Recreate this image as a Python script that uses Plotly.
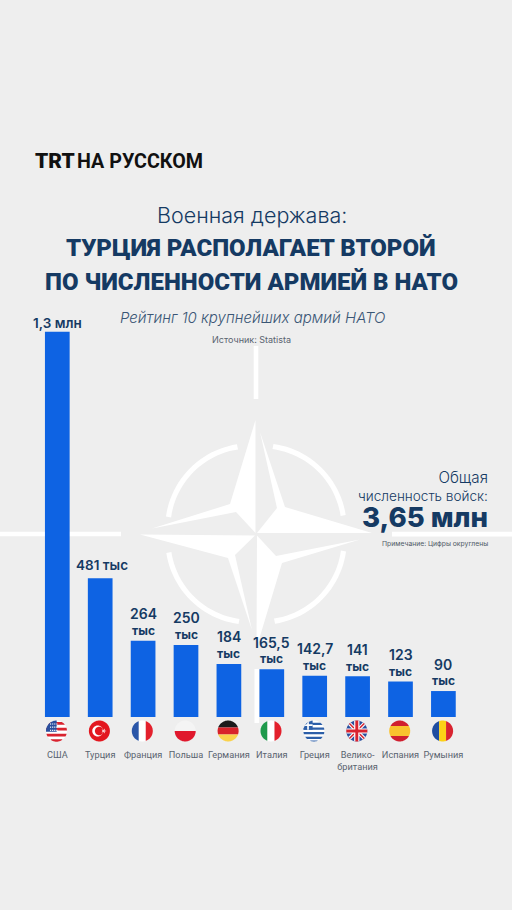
import math
import plotly.graph_objects as go

countries = ["США", "Турция", "Франция", "Польша", "Германия", "Италия", "Греция",
             "Велико-<br>британия", "Испания", "Румыния"]
troops_thousands = [1335, 481, 264, 250, 184, 165.5, 142.7, 141, 123, 90]
label_numbers = ["1,3 млн", "481 тыс", "264", "250", "184", "165,5", "142,7", "141", "123", "90"]

W, H = 512, 910
BG = "#eeeeee"
NAVY = "#153a63"
BLUE = "#0e63e3"
FONT = "Inter"
PX_PER_UNIT = 0.2885
BASE_Y = 717.0
X0, DX = 57.3, 42.9

def P(x, y):
    return x / W, 1 - y / H

def path_paper(pts):
    out = []
    for i, (x, y) in enumerate(pts):
        u, v = P(x, y)
        out.append(("M" if i == 0 else "L") + f"{u:.5f},{v:.5f}")
    return " ".join(out) + " Z"

shapes = []
def deco(pts):
    shapes.append(dict(type="path", xref="paper", yref="paper", path=path_paper(pts),
                       fillcolor="white", line_width=0, layer="below"))

# ---- NATO emblem (background decoration)
CX, CY = 256, 534
deco([(255.5, 420), (230, 504), (152, 528.5), (236, 512), (255.5, 533)])
deco([(260, 432), (285, 507), (372, 533), (257, 533), (277, 508)])
deco([(256.5, 648), (282, 563), (360, 539.5), (276, 556), (257, 535.5)])
deco([(252, 630), (228, 558), (140, 534.5), (255, 535.5), (235, 555)])
def arc(a0, a1, ro=93.2, ri=88.0, n=24):
    def radius(t, r):
        return r - 1.5 * abs(2 * t - 1) ** 2
    pts = []
    for i in range(n + 1):
        t = i / n
        a = math.radians(a0 + (a1 - a0) * t)
        r = radius(t, ro)
        pts.append((CX + r * math.cos(a), CY - r * math.sin(a)))
    for i in range(n, -1, -1):
        t = i / n
        a = math.radians(a0 + (a1 - a0) * t)
        r = radius(t, ri)
        pts.append((CX + r * math.cos(a), CY - r * math.sin(a)))
    return pts
for q in (0, 90, 180, 270):
    deco(arc(q + 12, q + 79))
deco([(0, 531.8), (121, 531.8), (121, 536.2), (0, 536.2)])
deco([(392, 531.8), (512, 531.8), (512, 536.4), (392, 536.4)])
deco([(253.7, 346), (258.3, 346), (258.3, 399), (253.7, 399)])
deco([(254.5, 669), (259.2, 669), (259.2, 723), (254.5, 723)])

# ---- flags, unit circle coordinates (y down), clipped to a disc
R = 10.5
DISC = [(math.cos(2 * math.pi * i / 72), math.sin(2 * math.pi * i / 72)) for i in range(72)]

def clip(poly):
    out = list(poly)
    n = len(DISC)
    for i in range(n):
        ax, ay = DISC[i]
        bx, by = DISC[(i + 1) % n]
        inp, out = out, []
        if not inp:
            break
        def side(p):
            return (bx - ax) * (p[1] - ay) - (by - ay) * (p[0] - ax)
        for j in range(len(inp)):
            p, q = inp[j], inp[(j + 1) % len(inp)]
            sp, sq = side(p), side(q)
            if sp >= 0:
                out.append(p)
            if (sp >= 0) != (sq >= 0):
                t = sp / (sp - sq)
                out.append((p[0] + (q[0] - p[0]) * t, p[1] + (q[1] - p[1]) * t))
    return out

def rect(x0, y0, x1, y1):
    return [(x0, y0), (x1, y0), (x1, y1), (x0, y1)]

def ngon(cx, cy, r, n=40):
    return [(cx + r * math.cos(2 * math.pi * i / n), cy + r * math.sin(2 * math.pi * i / n)) for i in range(n)]

def diag(x0, y0, x1, y1, w):
    dx, dy = x1 - x0, y1 - y0
    L = math.hypot(dx, dy)
    nx, ny = -dy / L * w, dx / L * w
    return [(x0 + nx, y0 + ny), (x1 + nx, y1 + ny), (x1 - nx, y1 - ny), (x0 - nx, y0 - ny)]

def flag_usa():
    RED, NV = "#d8232f", "#2a4f9e"
    parts = [("white", rect(-1, -1, 1, 1))]
    for k in range(4):
        y = -0.86 + k * 0.56
        parts.append((RED, rect(-1, y, 1, y + 0.26)))
    parts.append((RED, rect(-1, 0.82, 1, 1)))
    parts.append((NV, rect(-1, -1, 0.02, 0.08)))
    for row, y in enumerate((-0.72, -0.42, -0.12)):
        for col in range(4):
            x = -0.62 + col * 0.2
            parts.append(("white", rect(x, y, x + 0.11, y + 0.11)))
    return parts

def flag_turkey():
    RED = "#e3171f"
    pts = []
    for i in range(10):
        r = 0.26 if i % 2 == 0 else 0.1
        a = 2 * math.pi * i / 10
        pts.append((0.42 + r * math.cos(a), r * math.sin(a)))
    parts = [(RED, rect(-1, -1, 1, 1)), ("white", ngon(-0.16, 0, 0.52)), (RED, ngon(-0.02, 0, 0.41))]
    for i in range(0, 10, 2):
        parts.append(("white", [(0.42, 0), pts[i - 1], pts[i], pts[(i + 1) % 10]]))
    return parts

def vbands(a, b, c):
    return [(a, rect(-1, -1, -0.33, 1)), (b, rect(-0.33, -1, 0.33, 1)), (c, rect(0.33, -1, 1, 1))]

def hbands(a, b, c, e=0.33):
    return [(a, rect(-1, -1, 1, -e)), (b, rect(-1, -e, 1, e)), (c, rect(-1, e, 1, 1))]

def flag_greece():
    B = "#2d5fa8"
    parts = [("white", rect(-1, -1, 1, 1))]
    for y in (-0.78, -0.34, 0.1, 0.54):
        parts.append((B, rect(-1, y, 1, y + 0.22)))
    parts.append((B, rect(-1, 0.9, 1, 1)))
    parts.append((B, rect(-1, -1, -0.12, -0.12)))
    parts.append(("white", rect(-0.64, -1, -0.48, -0.12)))
    parts.append(("white", rect(-1, -0.64, -0.12, -0.48)))
    return parts

def flag_uk():
    B, RED = "#2a4f9e", "#d8232f"
    return [(B, rect(-1, -1, 1, 1)),
            ("white", diag(-1, -1, 1, 1, 0.17)), ("white", diag(-1, 1, 1, -1, 0.17)),
            (RED, diag(-1, -1, 1, 1, 0.07)), (RED, diag(-1, 1, 1, -1, 0.07)),
            ("white", rect(-0.25, -1, 0.25, 1)), ("white", rect(-1, -0.25, 1, 0.25)),
            (RED, rect(-0.14, -1, 0.14, 1)), (RED, rect(-1, -0.14, 1, 0.14))]

flags = [
    flag_usa(),
    flag_turkey(),
    vbands("#2a56a8", "white", "#e3202c"),
    [("#f4f4f4", rect(-1, -1, 1, 0)), ("#e0182d", rect(-1, 0, 1, 1))],
    hbands("#1b1b1b", "#d8232a", "#fad24b"),
    vbands("#1f9a4c", "white", "#e3202c"),
    flag_greece(),
    flag_uk(),
    hbands("#d01f2f", "#f9c22e", "#d01f2f", 0.48),
    vbands("#1f4ea1", "#fcd116", "#d8232f"),
]

FLAG_DY = 14.0
for i, parts in enumerate(flags):
    for color, poly in parts:
        pts = clip(poly)
        if len(pts) < 3:
            continue
        d = " ".join(("M" if j == 0 else "L") + f"{x * R - 0.8:.2f},{-y * R:.2f}" for j, (x, y) in enumerate(pts)) + " Z"
        shapes.append(dict(type="path", xref="x", yref="y", xsizemode="pixel", ysizemode="pixel",
                           xanchor=i, yanchor=-FLAG_DY / PX_PER_UNIT, path=d,
                           fillcolor=color, line_width=0, layer="above"))

# ---- bars
fig = go.Figure(go.Bar(
    x=list(range(len(countries))), y=troops_thousands, width=24.7 / DX,
    marker=dict(color=BLUE, line_width=0), hoverinfo="skip", showlegend=False))

ann = []
def text(x, y, s, size, color=NAVY, weight=400, anchor="center", style="normal", family=FONT, align="center"):
    u, v = P(x, y)
    ann.append(dict(xref="paper", yref="paper", x=u, y=v, text=s, showarrow=False, xanchor=anchor, yanchor="middle",
                    align=align, font=dict(family=family, size=size, color=color, weight=weight, style=style)))

def bar_label(i, val, s, size, shift, xshift=0, weight=600):
    ann.append(dict(xref="x", yref="y", x=i, y=val, text=s, showarrow=False, yanchor="middle", xanchor="center",
                    yshift=shift, xshift=xshift, font=dict(family=FONT, size=size, color=NAVY, weight=weight)))

# value labels, anchored on the bars
for i, (num, val) in enumerate(zip(label_numbers, troops_thousands)):
    if i == 0:
        bar_label(i, val, num, 13.5, 9)
    elif i == 1:
        bar_label(i, val, num, 13.5, 13, xshift=2)
    else:
        bar_label(i, val, num, 14, 27)
        bar_label(i, val, "тыс", 12, 10.3, weight=700)

text(33, 161, "TRT", 21, "#111111", 900, "left", family="Roboto")
text(75, 161, "НА РУССКОМ", 19.7, "#111111", 700, "left", family="Roboto")
text(251.5, 215, "Военная держава:", 21.5, NAVY, 300)
text(251, 248.5, "ТУРЦИЯ РАСПОЛАГАЕТ ВТОРОЙ", 24, NAVY, 900, family="Roboto")
text(251, 281.5, "ПО ЧИСЛЕННОСТИ АРМИЕЙ В НАТО", 24, NAVY, 900, family="Roboto")
text(252, 317, "Рейтинг 10 крупнейших армий НАТО", 15, "#3a5675", 300, style="italic")
text(251.5, 339, "Источник: Statista", 9, "#5a6470")
text(490, 485.5, "<span style=\"font-size:15.2px\">Общая</span><br>численность войск:", 13.6, NAVY, 300, "right", align="right")
text(490, 517, "3,65 млн", 27.6, NAVY, 800, "right")
text(489.5, 543, "Примечание: Цифры округлены", 6.8, "#4f5a66", 400, "right")

fig.update_layout(
    width=W, height=H, margin=dict(l=0, r=0, t=0, b=0), autosize=False,
    paper_bgcolor=BG, plot_bgcolor="rgba(0,0,0,0)", showlegend=False, shapes=shapes, annotations=ann,
    xaxis=dict(range=[-X0 / DX, (W - X0) / DX], tickmode="array", tickvals=list(range(len(countries))),
               ticktext=countries, showgrid=False, zeroline=False, showline=False, ticks="", tickangle=0,
               anchor="free", position=1 - 748 / H, automargin=False,
               tickfont=dict(family="Roboto", size=9.2, color="#59636f")),
    yaxis=dict(range=[-(H - BASE_Y) / PX_PER_UNIT, BASE_Y / PX_PER_UNIT], visible=False, automargin=False),
)
fig.write_html("out.html", config=dict(displayModeBar=False),
               post_script="document.body.style.margin='0';document.body.style.background='#eeeeee';document.documentElement.style.overflow='hidden';")
